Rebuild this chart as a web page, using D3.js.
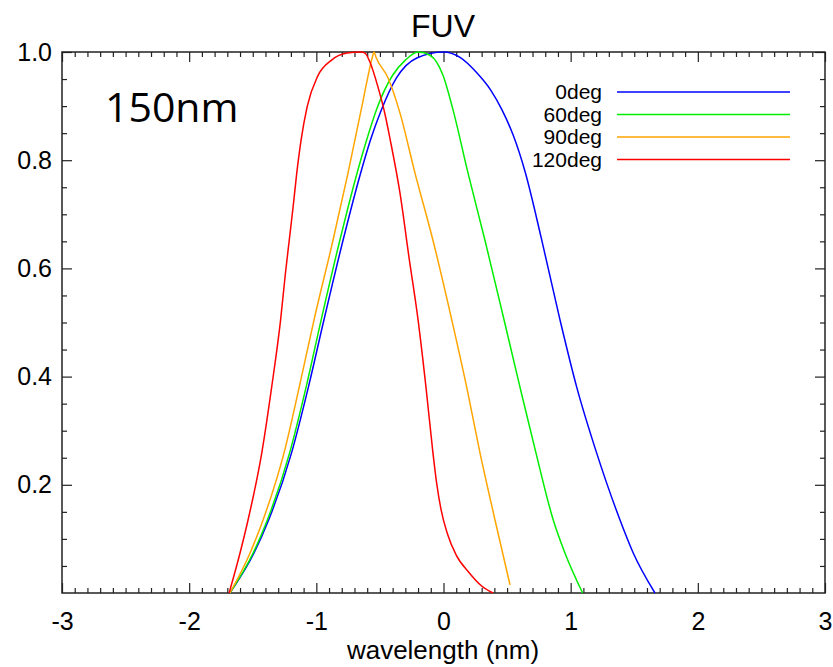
<!DOCTYPE html>
<html>
<head>
<meta charset="utf-8">
<script src="https://cdn.jsdelivr.net/npm/d3@7"></script>
<style>
  body { margin: 0; background: #fff; }
  svg text { font-family: "Liberation Sans", Arial, Helvetica, sans-serif; fill: #000; }
</style>
</head>
<body>
<svg id="chart" width="833" height="667"></svg>
<script>
// series (x = wavelength offset in nm, y = normalised response)
const labels = ["0deg", "60deg", "90deg", "120deg"];
const colors = ["#0000ff", "#00ee00", "#ffa500", "#ff0000"];

const x0 = [-1.68, -1.49, -1.375, -1.195, -1.062, -0.94, -0.79, -0.652, -0.575, -0.495, -0.37, -0.21, 0, 0.13, 0.26, 0.37, 0.46, 0.55, 0.64, 0.77, 0.916, 1.047, 1.204, 1.388, 1.492, 1.663];
const y0 = [0, 0.074, 0.135, 0.259, 0.381, 0.505, 0.652, 0.776, 0.837, 0.889, 0.952, 0.989, 1.0, 0.99, 0.962, 0.93, 0.893, 0.845, 0.78, 0.655, 0.505, 0.381, 0.259, 0.135, 0.074, 0];

const x60 = [-1.68, -1.497, -1.385, -1.21, -1.08, -0.962, -0.815, -0.68, -0.605, -0.52, -0.4, -0.3, -0.2, -0.106, -0.004, 0.075, 0.193, 0.326, 0.476, 0.601, 0.727, 0.863, 0.955, 1.094];
const y60 = [0, 0.074, 0.135, 0.259, 0.381, 0.505, 0.652, 0.776, 0.837, 0.898, 0.957, 0.985, 1.0, 0.994, 0.957, 0.893, 0.776, 0.652, 0.505, 0.381, 0.259, 0.135, 0.074, 0];

const x90 = [-1.68, -1.521, -1.419, -1.254, -1.134, -1.018, -0.869, -0.751, -0.643, -0.594, -0.56, -0.546, -0.53, -0.436, -0.342, -0.224, -0.083, 0.065, 0.182, 0.287, 0.405, 0.523];
const y90 = [0, 0.074, 0.135, 0.259, 0.381, 0.505, 0.652, 0.776, 0.898, 0.955, 0.99, 1.0, 0.99, 0.952, 0.887, 0.776, 0.652, 0.505, 0.381, 0.259, 0.135, 0.015];

const x120 = [-1.686, -1.6, -1.537, -1.429, -1.351, -1.281, -1.243, -1.213, -1.183, -1.154, -1.12, -1.072, -0.99, -0.88, -0.76, -0.65, -0.617, -0.578, -0.515, -0.46, -0.421, -0.342, -0.271, -0.2, -0.138, -0.083, -0.055, -0.02, 0.03, 0.1, 0.2, 0.3, 0.389];
const y120 = [0, 0.074, 0.135, 0.259, 0.381, 0.505, 0.591, 0.652, 0.713, 0.776, 0.837, 0.899, 0.955, 0.985, 0.998, 1.0, 0.998, 0.981, 0.935, 0.885, 0.84, 0.739, 0.62, 0.505, 0.381, 0.259, 0.205, 0.155, 0.11, 0.07, 0.038, 0.013, 0];

const xTicks = [-3, -2, -1, 0, 1, 2, 3];
const yTicks = [0.2, 0.4, 0.6, 0.8, 1.0];

const svg = d3.select("#chart");
const pLeft = 62, pRight = 825, pTop = 52, pBottom = 593;

const x = d3.scaleLinear().domain([-3, 3]).range([pLeft, pRight]);
const y = d3.scaleLinear().domain([0, 1]).range([pBottom, pTop]);

const xMinor = d3.range(-30, 31).map(d => d / 10).filter(d => !Number.isInteger(d));
const yMinor = d3.range(1, 20).map(d => d / 20).filter(d => Math.round(d * 100) % 20 != 0);

function styleAxis(g) {
  g.select(".domain").remove();
  g.selectAll("line").attr("stroke", "#222").attr("stroke-width", 1.2);
  g.selectAll("text").style("font-size", "25px").attr("fill", "#000");
}

// bottom
svg.append("g").attr("transform", `translate(0,${pBottom})`)
  .call(d3.axisBottom(x).tickValues(xTicks).tickSize(-10).tickPadding(19).tickFormat(d => String(d)))
  .call(styleAxis);
svg.append("g").attr("transform", `translate(0,${pBottom})`)
  .call(d3.axisBottom(x).tickValues(xMinor).tickSize(-5).tickFormat(""))
  .call(styleAxis);
// top
svg.append("g").attr("transform", `translate(0,${pTop})`)
  .call(d3.axisTop(x).tickValues(xTicks).tickSize(-10).tickFormat(""))
  .call(styleAxis);
svg.append("g").attr("transform", `translate(0,${pTop})`)
  .call(d3.axisTop(x).tickValues(xMinor).tickSize(-5).tickFormat(""))
  .call(styleAxis);
// left
svg.append("g").attr("transform", `translate(${pLeft},0)`)
  .call(d3.axisLeft(y).tickValues(yTicks).tickSize(-10).tickPadding(10).tickFormat(d3.format(".1f")))
  .call(styleAxis);
svg.append("g").attr("transform", `translate(${pLeft},0)`)
  .call(d3.axisLeft(y).tickValues(yMinor).tickSize(-5).tickFormat(""))
  .call(styleAxis);
// right
svg.append("g").attr("transform", `translate(${pRight},0)`)
  .call(d3.axisRight(y).tickValues(yTicks).tickSize(-10).tickFormat(""))
  .call(styleAxis);
svg.append("g").attr("transform", `translate(${pRight},0)`)
  .call(d3.axisRight(y).tickValues(yMinor).tickSize(-5).tickFormat(""))
  .call(styleAxis);

svg.append("rect")
  .attr("x", pLeft).attr("y", pTop)
  .attr("width", pRight - pLeft).attr("height", pBottom - pTop)
  .attr("fill", "none").attr("stroke", "#222").attr("stroke-width", 1.5);

// curves
const series = [
  { xs: x0, ys: y0 },
  { xs: x60, ys: y60 },
  { xs: x90, ys: y90 },
  { xs: x120, ys: y120 }
];

const line = d3.line()
  .x(d => x(d[0]))
  .y(d => y(d[1]))
  .curve(d3.curveMonotoneX);

svg.selectAll(".curve")
  .data(series)
  .enter()
  .append("path")
  .attr("class", "curve")
  .attr("d", s => line(d3.zip(s.xs, s.ys)))
  .attr("fill", "none")
  .attr("stroke", (s, i) => colors[i])
  .attr("stroke-width", 1.5);

// legend
const leg = svg.append("g").selectAll("g")
  .data(labels)
  .enter()
  .append("g")
  .attr("transform", (d, i) => `translate(0,${92 + i * 22.5})`);

leg.append("line")
  .attr("x1", 617).attr("x2", 790)
  .attr("stroke", (d, i) => colors[i])
  .attr("stroke-width", 1.5);

leg.append("text")
  .attr("x", 602).attr("y", 7)
  .attr("text-anchor", "end")
  .style("font-size", "21px")
  .text(d => d);

// texts
svg.append("text")
  .attr("x", 443).attr("y", 37)
  .attr("text-anchor", "middle")
  .style("font-size", "32px")
  .text("FUV");

svg.append("text")
  .attr("x", 443).attr("y", 659)
  .attr("text-anchor", "middle")
  .style("font-size", "26px")
  .text("wavelength (nm)");

svg.append("text")
  .attr("x", 105).attr("y", 122)
  .style("font-family", "'Open Sans', 'Noto Sans', sans-serif")
  .style("font-size", "41px")
  .text("150nm");
</script>
</body>
</html>
